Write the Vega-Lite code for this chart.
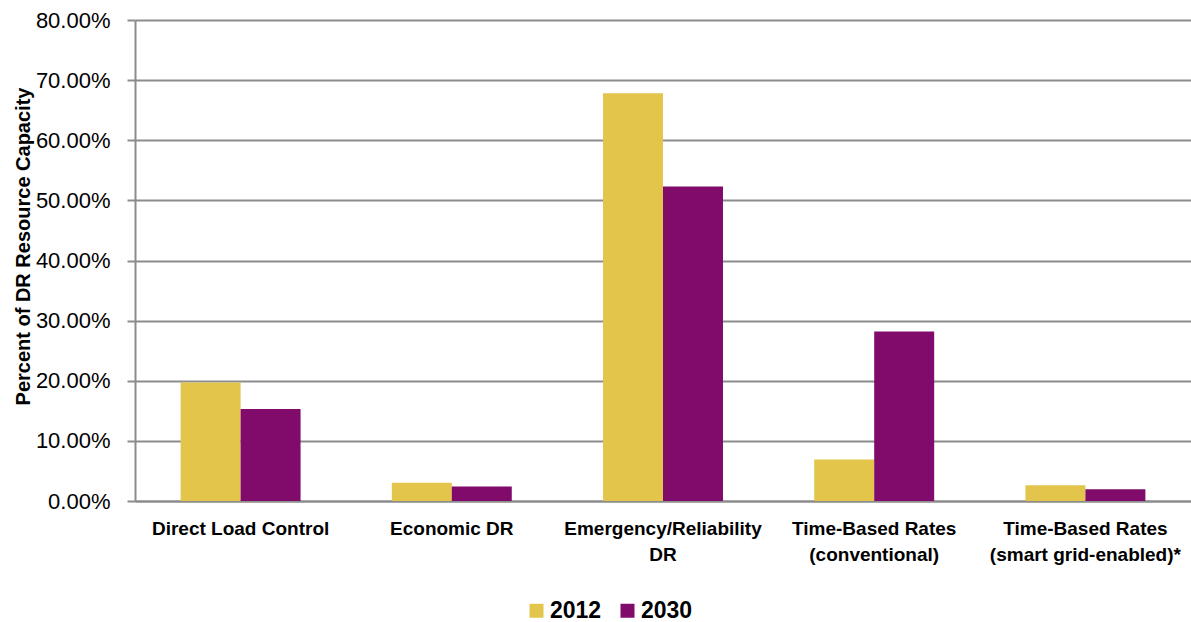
{
  "$schema": "https://vega.github.io/schema/vega-lite/v6.json",
  "width": 1056,
  "height": 481,
  "autosize": {"type": "none"},
  "padding": {"left": 135, "top": 20, "right": 0, "bottom": 121},
  "background": "white",
  "config": {
    "view": {"stroke": null},
    "font": "Liberation Sans"
  },
  "data": {
    "values": [
      {"category": "Direct Load Control", "year": "2012", "value": 0.197},
      {"category": "Direct Load Control", "year": "2030", "value": 0.153},
      {"category": "Economic DR", "year": "2012", "value": 0.0305},
      {"category": "Economic DR", "year": "2030", "value": 0.024},
      {"category": "Emergency/Reliability DR", "year": "2012", "value": 0.678},
      {"category": "Emergency/Reliability DR", "year": "2030", "value": 0.523},
      {"category": "Time-Based Rates (conventional)", "year": "2012", "value": 0.069},
      {"category": "Time-Based Rates (conventional)", "year": "2030", "value": 0.282},
      {"category": "Time-Based Rates (smart grid-enabled)*", "year": "2012", "value": 0.026},
      {"category": "Time-Based Rates (smart grid-enabled)*", "year": "2030", "value": 0.0195}
    ]
  },
  "mark": {"type": "bar"},
  "encoding": {
    "x": {
      "field": "category",
      "type": "nominal",
      "sort": null,
      "scale": {"paddingInner": 0.432, "paddingOuter": 0.216},
      "axis": {
        "title": null,
        "labelAngle": 0,
        "labelFontSize": 19,
        "labelFontWeight": "bold",
        "labelColor": "#000000",
        "labelLineHeight": 26,
        "labelPadding": 18,
        "labelBaseline": "top",
        "labelLimit": 0,
        "ticks": false,
        "domain": true,
        "domainColor": "#8c8c8c",
        "domainWidth": 2,
        "labelExpr": "datum.value == 'Emergency/Reliability DR' ? ['Emergency/Reliability', 'DR'] : datum.value == 'Time-Based Rates (conventional)' ? ['Time-Based Rates', '(conventional)'] : datum.value == 'Time-Based Rates (smart grid-enabled)*' ? ['Time-Based Rates', '(smart grid-enabled)*'] : datum.value"
      }
    },
    "xOffset": {"field": "year", "type": "nominal", "scale": {"paddingInner": 0, "paddingOuter": 0}},
    "y": {
      "field": "value",
      "type": "quantitative",
      "scale": {"domain": [0, 0.8], "nice": false},
      "axis": {
        "title": "Percent of DR Resource Capacity",
        "titleFontSize": 20,
        "titleFontWeight": "bold",
        "titleColor": "#000000",
        "titleX": -102,
        "titleY": 226,
        "titleAnchor": "middle",
        "values": [0, 0.1, 0.2, 0.3, 0.4, 0.5, 0.6, 0.7, 0.8],
        "format": ".2%",
        "labelFontSize": 22,
        "labelColor": "#000000",
        "labelPadding": 17,
        "tickSize": 8,
        "tickColor": "#8c8c8c",
        "tickWidth": 2,
        "domainColor": "#8c8c8c",
        "domainWidth": 2,
        "grid": true,
        "gridColor": "#8c8c8c",
        "gridWidth": 2
      }
    },
    "color": {
      "field": "year",
      "type": "nominal",
      "scale": {"domain": ["2012", "2030"], "range": ["#E2C54A", "#800B6A"]},
      "legend": {
        "title": null,
        "orient": "none",
        "direction": "horizontal",
        "legendX": 390,
        "legendY": 579,
        "symbolType": "square",
        "symbolSize": 196,
        "symbolStrokeWidth": 0,
        "labelFontSize": 23,
        "labelFontWeight": "bold",
        "labelColor": "#000000",
        "labelOffset": 2,
        "columnPadding": 14
      }
    }
  }
}
